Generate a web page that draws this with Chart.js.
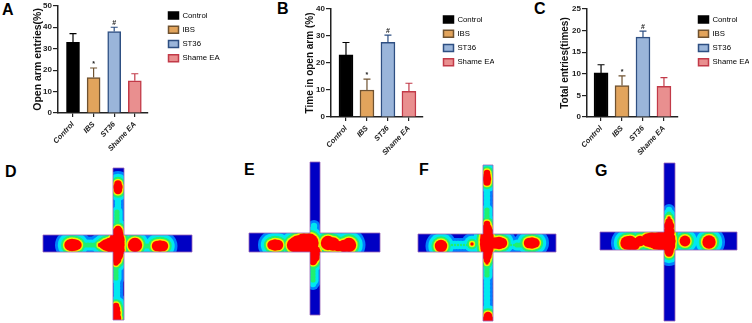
<!DOCTYPE html>
<html>
<head>
<meta charset="utf-8">
<script src="https://cdn.jsdelivr.net/npm/chart.js@4/dist/chart.umd.js"></script>
<style>
  html, body { margin: 0; padding: 0; background: #fff; width: 752px; height: 323px; overflow: hidden; }
  canvas { position: absolute; filter: blur(0.35px); }
  .heat { filter: blur(0.6px); }
  .letter { position: absolute; font: bold 16px/16px "Liberation Sans", sans-serif; color: #000; }
</style>
</head>
<body>
<div class="letter" style="left:2px;top:2px">A</div>
<div class="letter" style="left:277px;top:1px">B</div>
<div class="letter" style="left:534px;top:1px">C</div>
<div class="letter" style="left:5px;top:164px">D</div>
<div class="letter" style="left:244px;top:162px">E</div>
<div class="letter" style="left:419px;top:162px">F</div>
<div class="letter" style="left:595px;top:163px">G</div>

<canvas id="chartA" width="220" height="160" style="left:32px;top:0"></canvas>
<canvas id="chartB" width="190" height="160" style="left:304px;top:0"></canvas>
<canvas id="chartC" width="190" height="160" style="left:559px;top:0"></canvas>
<canvas id="heatD" class="heat" width="160" height="163" style="left:38px;top:160px"></canvas>
<canvas id="heatE" class="heat" width="140" height="163" style="left:245px;top:160px"></canvas>
<canvas id="heatF" class="heat" width="146" height="163" style="left:414px;top:160px"></canvas>
<canvas id="heatG" class="heat" width="145" height="163" style="left:597px;top:160px"></canvas>

<script>
const categories = ['Control', 'IBS', 'ST36', 'Shame EA'];
const fillColors = ['#000000', '#e2a45c', '#9ab5da', '#e98f8f'];
const lineColors = ['#000000', '#6f5230', '#2e4f82', '#c23a48'];
const sigMarks = ['', '*', '#', ''];

const openArmValues = [33, 16.5, 38, 15];
const openArmTops = [37, 21, 40, 18.3];
const openArmTicks = [0, 10, 20, 30, 40, 50];

const timeValues = [23, 10, 27.7, 9.5];
const timeTops = [27.6, 14, 30.3, 12.5];
const timeTicks = [0, 10, 20, 30, 40];

const totalValues = [10.2, 7.3, 18.5, 7.1];
const totalTops = [12.1, 9.5, 19.9, 9.1];
const totalTicks = [0, 5, 10, 15, 20, 25];

// heat spots: x, y in figure pixels, last number is the hot core radius
const heatSpotsD = [
  [70, 245, 5], [72, 245, 5.5], [75, 245, 5], [77, 245, 4],
  [85, 245, -1.6], [88, 245, -1.6], [91, 245, -1.6], [94, 245, -1.6], [97, 245, -1.6],
  [100, 245, 1.5], [103, 245, 3], [106, 245, 5], [110, 245, 6.5], [114, 245, 8], [116, 245, 8],
  [117, 240, 7], [117, 235, 6], [118, 231, 4], [118, 229, 2.5], [117, 250, 7], [117, 255, 5.5], [117, 260, 3.5], [116, 263, 2],
  [135, 245, 6.5], [144, 246, -1.6], [147, 246, -1.6], [150, 246, -1.6], [157, 246, 4.5], [160, 246, 5], [163, 246, 4.5],
  [118, 184, 3], [118, 187, 4], [118, 190, 3.5],
  [118, 194, -4], [118, 197, -4], [118, 200, -4], [118, 203, -4], [118, 206, -4], [118, 209, -4],
  [117, 212, -1.6], [117, 215, -1.6], [117, 218, -1.6], [117, 221, -1.6], [117, 224, -1.6],
  [116, 266, -1.6], [116, 269, -1.6], [116, 272, -1.6], [116, 275, -1.6], [116, 278, -1.6],
  [117, 282, -4], [117, 285, -4], [117, 288, -4], [117, 291, -4], [117, 294, -4], [117, 297, -4], [117, 300, -4],
  [116, 306, 2.5], [116, 309, 3.5], [116, 313, 4], [116, 318, 4.5]
];
const heatSpotsE = [
  [272, 245, 4], [275, 245, 5], [278, 245, 4.5], [285, 246, -1.6],
  [294, 245, 6.5], [298, 244, 8], [304, 243, 9], [309, 243, 9], [314, 252, 6], [314, 257, 5], [313, 261, 3.5],
  [313, 265, -1.6], [313, 268, -1.6], [313, 271, -1.6], [313, 274, -1.6], [313, 277, -1.6], [313, 280, -1.6], [313, 284, -4],
  [314, 226, -4], [314, 229, -4],
  [328, 243, 6.5], [333, 244, 6], [338, 246, 4.5], [344, 246, 5.5], [349, 245, 6.5]
];
const heatSpotsF = [
  [441, 246, 5.5], [449, 245, -3], [452, 245, -3], [455, 245, -3], [458, 245, -3], [461, 245, -3], [464, 245, -3], [467, 245, -3], [472, 244, 1],
  [487, 224, 2.5], [487, 228, 4], [487, 232, 5.5], [487, 236, 6], [487, 240, 6.5], [487, 244, 6.5],
  [487, 248, 6], [487, 252, 5], [487, 256, 4], [487, 260, 2.5], [487, 263, 1],
  [487, 210, -1.6], [487, 213, -1.6], [487, 216, -1.6], [487, 219, -1.6],
  [487, 266, -1.6], [487, 269, -1.6], [487, 272, -1.6], [487, 275, -1.6],
  [495, 243, 5], [499, 243, 5.5], [502, 243, 4.5],
  [508, 245, -3], [511, 245, -3], [514, 245, -3], [517, 245, -1.6], [520, 245, -1.6], [523, 245, -1.6],
  [529, 243, 4.5], [532, 243, 5], [535, 243, 4],
  [487, 173, 2.5], [487, 176, 3], [487, 179, 3.5], [487, 182, 3],
  [487, 186, -4], [487, 190, -4], [487, 194, -4], [487, 198, -4], [487, 202, -4], [487, 206, -4],
  [487, 278, -4], [487, 282, -4], [487, 286, -4], [487, 290, -4], [487, 294, -4], [487, 298, -4], [487, 302, -4], [487, 306, -4],
  [488, 312, -1.6], [488, 316, 3.5], [488, 320, 5]
];
const heatSpotsG = [
  [627, 243, 6], [630, 243, 6.5], [634, 244, 5.5], [640, 241, 4.5], [648, 240, 6], [652, 240, 7], [657, 241, 8], [662, 241, 9], [666, 241, 9],
  [669, 210, -4], [669, 214, -1.6], [669, 218, 1], [669, 222, 3], [669, 226, 4.5], [669, 232, 5], [669, 238, 5.5], [669, 246, 5.5], [669, 251, 4], [669, 253, 3],
  [685, 241, 4.7], [691, 241, -4], [694, 241, -4], [697, 241, -4], [700, 241, -4], [703, 241, -4], [709, 242, 6]
];

// contour bands of the heat map, outermost first
const heatColors = ['#0080ff', '#00e8f0', '#20f070', '#f0f000', '#ff0000'];
const heatGrow = [10, 7.2, 4.2, 2.2, 0.7];

const labelFont = '"Liberation Sans", sans-serif';

const errorBars = {
  id: 'errorBars',
  beforeDraw(chart, args, opts) {
    // legend sits outside the axes, to the right of the plot
    const lg = chart.legend;
    lg.left = opts.legendX - 7;
    lg.right = lg.left + lg.width;
    lg.top = opts.legendY;
    lg.bottom = lg.top + lg.height;
  },
  afterDatasetsDraw(chart, args, opts) {
    const { ctx, scales } = chart;
    ctx.save();
    opts.tops.forEach((top, i) => {
      const x = scales.x.getPixelForValue(i + 1);
      const yTop = scales.y.getPixelForValue(top);
      const yBar = scales.y.getPixelForValue(opts.values[i]);
      ctx.strokeStyle = lineColors[i];
      ctx.lineWidth = 1.2;
      ctx.beginPath();
      ctx.moveTo(x, yBar);
      ctx.lineTo(x, yTop);
      ctx.moveTo(x - 3.5, yTop);
      ctx.lineTo(x + 3.5, yTop);
      ctx.stroke();
      if (sigMarks[i]) {
        ctx.fillStyle = '#222';
        ctx.font = 'bold 7px ' + labelFont;
        ctx.textAlign = 'center';
        ctx.textBaseline = 'bottom';
        ctx.fillText(sigMarks[i], x, yTop - 0.5);
      }
    });
    ctx.restore();
  }
};

function barPanel(id, yTitle, values, tops, ticks, box) {
  new Chart(document.getElementById(id), {
    type: 'bar',
    data: {
      datasets: [{
        data: values.map((v, i) => ({ x: i + 1, y: v })),
        backgroundColor: fillColors,
        borderColor: lineColors,
        borderWidth: 1.5,
        barThickness: box.barWidth
      }]
    },
    plugins: [errorBars],
    options: {
      responsive: false,
      animation: false,
      layout: {
        autoPadding: false,
        padding: { top: box.top, right: box.right, left: 0, bottom: 0 }
      },
      plugins: {
        tooltip: { enabled: false },
        legend: {
          position: 'chartArea',
          align: 'start',
          labels: {
            boxWidth: 10,
            boxHeight: 7,
            padding: 6.5,
            color: '#111',
            font: { size: 7.8, family: labelFont },
            generateLabels: () => categories.map((c, i) => ({
              text: c,
              fillStyle: fillColors[i],
              strokeStyle: lineColors[i],
              lineWidth: 1.5,
              hidden: false,
              index: i
            }))
          }
        },
        errorBars: { values, tops, legendX: box.legendX, legendY: box.legendY }
      },
      scales: {
        x: {
          type: 'linear',
          offset: false,
          min: box.xMin,
          max: box.xMax,
          afterFit: s => { s.height = box.xHeight; },
          afterBuildTicks: s => { s.ticks = categories.map((c, i) => ({ value: i + 1 })); },
          grid: { offset: false, drawOnChartArea: false, color: '#222', lineWidth: 1.2, tickLength: 4 },
          border: { color: '#222', width: 1.5 },
          ticks: {
            callback: v => categories[v - 1],
            autoSkip: false,
            minRotation: 47,
            maxRotation: 47,
            padding: 3,
            color: '#222',
            font: { size: 7.5, weight: 'bold', style: 'italic', family: labelFont }
          }
        },
        y: {
          min: ticks[0],
          max: ticks[ticks.length - 1],
          afterFit: s => { s.width = box.yWidth; },
          afterBuildTicks: s => { s.ticks = ticks.map(value => ({ value })); },
          grid: { drawOnChartArea: false, color: '#222', lineWidth: 1.2, tickLength: 5 },
          border: { color: '#222', width: 1.5 },
          ticks: {
            padding: 1,
            color: '#222',
            font: { size: 8, weight: 'bold', family: labelFont }
          },
          title: {
            display: true,
            text: yTitle,
            padding: 0,
            color: '#111',
            font: { size: box.titleSize, weight: 'bold', family: labelFont }
          }
        }
      }
    }
  });
}

barPanel('chartA', 'Open arm entries(%)', openArmValues, openArmTops, openArmTicks, {
  top: 5, right: 104, yWidth: 26, xHeight: 47, barWidth: 13,
  xMin: 0.272, xMax: 4.64, legendX: 137, legendY: 5, titleSize: 10.5
});
barPanel('chartB', 'Time in open arm (%)', timeValues, timeTops, timeTicks, {
  top: 9, right: 71, yWidth: 27, xHeight: 43, barWidth: 14,
  xMin: 0.286, xMax: 4.67, legendX: 140, legendY: 9, titleSize: 10
});
barPanel('chartC', 'Total entries(times)', totalValues, totalTops, totalTicks, {
  top: 9, right: 71, yWidth: 28, xHeight: 43, barWidth: 14,
  xMin: 0.33, xMax: 4.67, legendX: 140, legendY: 9, titleSize: 10
});

function crossPath(chart, h, v) {
  const { ctx, scales } = chart;
  const px = a => scales.x.getPixelForValue(a);
  const py = a => scales.y.getPixelForValue(a);
  ctx.beginPath();
  ctx.moveTo(px(v[0]), py(v[1]));
  ctx.lineTo(px(v[2]), py(v[1]));
  ctx.lineTo(px(v[2]), py(h[1]));
  ctx.lineTo(px(h[2]), py(h[1]));
  ctx.lineTo(px(h[2]), py(h[3]));
  ctx.lineTo(px(v[2]), py(h[3]));
  ctx.lineTo(px(v[2]), py(v[3]));
  ctx.lineTo(px(v[0]), py(v[3]));
  ctx.lineTo(px(v[0]), py(h[3]));
  ctx.lineTo(px(h[0]), py(h[3]));
  ctx.lineTo(px(h[0]), py(h[1]));
  ctx.lineTo(px(v[0]), py(h[1]));
  ctx.closePath();
}

const crossArms = {
  id: 'crossArms',
  beforeDatasetsDraw(chart, args, opts) {
    const { ctx } = chart;
    ctx.save();
    crossPath(chart, opts.h, opts.v);
    ctx.fillStyle = '#0000c4';
    ctx.fill();
    ctx.clip();
  },
  afterDatasetsDraw(chart, args, opts) {
    const { ctx } = chart;
    ctx.restore();
    ctx.save();
    crossPath(chart, opts.h, opts.v);
    ctx.strokeStyle = '#9a66b8';
    ctx.lineWidth = 0.8;
    ctx.stroke();
    ctx.restore();
  }
};

function heatPanel(id, spots, canvasBox, h, v) {
  new Chart(document.getElementById(id), {
    type: 'bubble',
    data: {
      datasets: heatColors.map((color, band) => ({
        data: spots
          .filter(s => s[2] + heatGrow[band] > 1)
          .map(s => ({ x: s[0], y: s[1], r: s[2] + heatGrow[band] })),
        backgroundColor: color,
        borderWidth: 0,
        hoverRadius: 0,
        order: heatColors.length - band
      }))
    },
    plugins: [crossArms],
    options: {
      responsive: false,
      animation: false,
      layout: { autoPadding: false, padding: 0 },
      plugins: {
        legend: { display: false },
        tooltip: { enabled: false },
        crossArms: { h, v }
      },
      scales: {
        x: { type: 'linear', display: false, min: canvasBox[0], max: canvasBox[0] + canvasBox[2] },
        y: { type: 'linear', display: false, reverse: true, min: canvasBox[1], max: canvasBox[1] + canvasBox[3] }
      }
    }
  });
}

heatPanel('heatD', heatSpotsD, [38, 160, 160, 163], [43, 235, 192, 252], [113, 168, 124, 320]);
heatPanel('heatE', heatSpotsE, [245, 160, 140, 163], [249, 233, 380, 252], [310, 162, 320, 315]);
heatPanel('heatF', heatSpotsF, [414, 160, 146, 163], [418, 234, 556, 252], [483, 165, 493, 321]);
heatPanel('heatG', heatSpotsG, [597, 160, 145, 163], [600, 232, 737, 250], [664, 163, 675, 321]);
</script>
</body>
</html>
